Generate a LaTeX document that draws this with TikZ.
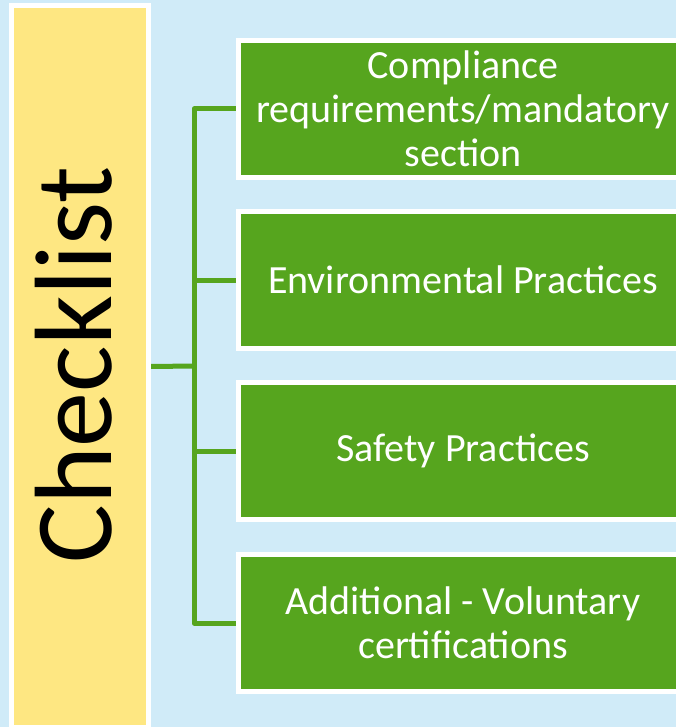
\documentclass[tikz,border=0pt]{standalone}
\usepackage{fontspec}
\setmainfont{Carlito}
\usepackage{xcolor}
\usepackage{tikz}
\usetikzlibrary{backgrounds}

\definecolor{skyback}{RGB}{208,235,248}
\definecolor{listyellow}{RGB}{254,231,130}
\definecolor{leafgreen}{RGB}{86,165,30}

\begin{document}
\begin{tikzpicture}[
		x=1pt, y=-1pt,
		line width=5pt,
		list box/.style={fill=listyellow, draw=white, minimum width=137pt, minimum height=722pt, inner sep=0pt},
		list title/.style={rotate=90, inner sep=0pt, font=\fontsize{110}{114}\selectfont},
		item box/.style={fill=leafgreen, draw=white, minimum width=449pt, minimum height=137pt, inner sep=0pt, text=white, align=center, font=\fontsize{40}{44}\selectfont},
		link/.style={leafgreen, line width=5pt, line join=round}
		]

	% Frame
	\useasboundingbox (0, 0) rectangle (676, 727);

	% Checklist
	\node[list box] (checklist) at (80, 366.5) {};
	\node[list title] (title) at (74, 365) {Checklist};

	% Items
	\node[item box] (compliance) at (463, 109) {Compliance\\requirements/mandatory\\section};
	\node[item box] (environment) at (463, 280) {Environmental Practices};
	\node[item box] (safety) at (463, 451) {Safety Practices};
	\node[item box] (voluntary) at (463, 623) {Additional - Voluntary\\certifications};

	% Background and connectors
	\begin{scope}[on background layer]
		\fill[skyback] (0, 0) rectangle (676, 727);
		\coordinate (hub) at (194, 366);
		\draw[link] (checklist.east) -- (hub);
		\draw[link] (compliance.west) -| (hub) |- (voluntary.west);
		\draw[link] (environment.west) -- (environment.west -| hub);
		\draw[link] (safety.west) -- (safety.west -| hub);
	\end{scope}

\end{tikzpicture}
\end{document}
